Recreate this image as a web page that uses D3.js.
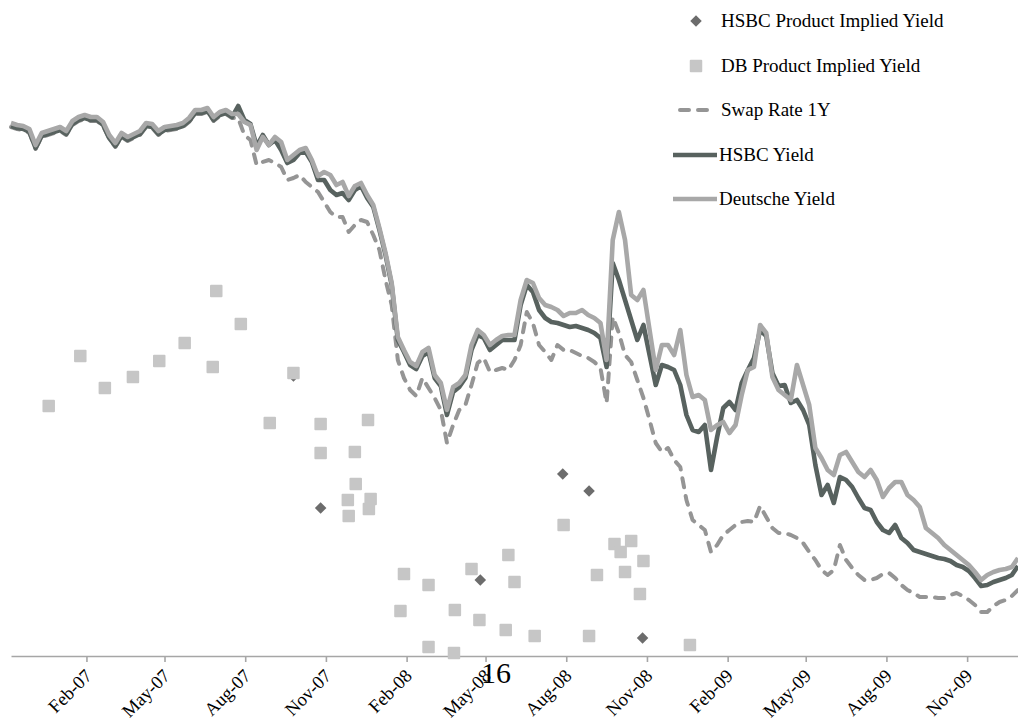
<!DOCTYPE html>
<html>
<head>
<meta charset="utf-8">
<script src="https://cdn.jsdelivr.net/npm/d3@7/dist/d3.min.js"></script>
<style>
  html, body { margin: 0; padding: 0; background: #fff; }
  svg { display: block; }
  text { font-family: "Liberation Serif", "Times New Roman", serif; }
</style>
</head>
<body>
<svg id="chart" width="1018" height="726"></svg>
<script>
// ---- Data ----
const dates = [
"2006-11-07","2006-11-14","2006-11-21","2006-11-28","2006-12-05","2006-12-12","2006-12-19","2006-12-26",
"2007-01-02","2007-01-09","2007-01-16","2007-01-23","2007-01-30","2007-02-06","2007-02-13","2007-02-20",
"2007-02-27","2007-03-06","2007-03-13","2007-03-20","2007-03-27","2007-04-03","2007-04-10","2007-04-17",
"2007-04-24","2007-05-01","2007-05-08","2007-05-15","2007-05-22","2007-05-29","2007-06-05","2007-06-12",
"2007-06-19","2007-06-26","2007-07-03","2007-07-10","2007-07-17","2007-07-24","2007-07-31","2007-08-07",
"2007-08-14","2007-08-21","2007-08-28","2007-09-04","2007-09-11","2007-09-18","2007-09-25","2007-10-02",
"2007-10-09","2007-10-16","2007-10-23","2007-10-30","2007-11-06","2007-11-13","2007-11-20","2007-11-27",
"2007-12-04","2007-12-11","2007-12-18","2007-12-25","2008-01-01","2008-01-08","2008-01-15","2008-01-22",
"2008-01-29","2008-02-05","2008-02-12","2008-02-19","2008-02-26","2008-03-04","2008-03-11","2008-03-18",
"2008-03-25","2008-04-01","2008-04-08","2008-04-15","2008-04-22","2008-04-29","2008-05-06","2008-05-13",
"2008-05-20","2008-05-27","2008-06-03","2008-06-10","2008-06-17","2008-06-24","2008-07-01","2008-07-08",
"2008-07-15","2008-07-22","2008-07-29","2008-08-05","2008-08-12","2008-08-19","2008-08-26","2008-09-02",
"2008-09-09","2008-09-16","2008-09-23","2008-09-30","2008-10-07","2008-10-14","2008-10-21","2008-10-28",
"2008-11-04","2008-11-11","2008-11-18","2008-11-25","2008-12-02","2008-12-09","2008-12-16","2008-12-23",
"2008-12-30","2009-01-06","2009-01-13","2009-01-20","2009-01-27","2009-02-03","2009-02-10","2009-02-17",
"2009-02-24","2009-03-03","2009-03-10","2009-03-17","2009-03-24","2009-03-31","2009-04-07","2009-04-14",
"2009-04-21","2009-04-28","2009-05-05","2009-05-12","2009-05-19","2009-05-26","2009-06-02","2009-06-09",
"2009-06-16","2009-06-23","2009-06-30","2009-07-07","2009-07-14","2009-07-21","2009-07-28","2009-08-04",
"2009-08-11","2009-08-18","2009-08-25","2009-09-01","2009-09-08","2009-09-15","2009-09-22","2009-09-29",
"2009-10-06","2009-10-13","2009-10-20","2009-10-27","2009-11-03","2009-11-10","2009-11-17","2009-11-24",
"2009-12-01","2009-12-08","2009-12-15","2009-12-22","2009-12-29"
];

const deutscheYield = [
5.33,5.31,5.30,5.27,5.11,5.23,5.25,5.27,5.29,5.25,5.35,5.39,5.41,5.39,5.39,5.34,
5.21,5.13,5.23,5.19,5.22,5.25,5.33,5.32,5.25,5.29,5.30,5.31,5.33,5.38,5.46,5.46,
5.48,5.39,5.44,5.46,5.42,5.42,5.34,5.31,5.06,5.19,5.11,5.19,5.14,4.96,5.01,5.06,
5.08,4.96,4.80,4.84,4.81,4.71,4.74,4.60,4.70,4.73,4.61,4.51,4.28,4.03,3.73,3.19,
3.06,2.94,2.90,3.04,3.08,2.81,2.73,2.46,2.69,2.73,2.81,3.11,3.26,3.21,3.11,3.16,
3.20,3.21,3.21,3.56,3.76,3.73,3.58,3.51,3.49,3.46,3.40,3.43,3.43,3.46,3.41,3.38,
3.33,2.96,4.16,4.44,4.16,3.61,3.56,3.66,3.26,2.86,3.11,3.11,3.01,3.26,2.81,2.59,
2.61,2.56,2.26,2.31,2.34,2.23,2.31,2.61,2.86,2.89,3.31,3.23,2.79,2.66,2.61,2.56,
2.91,2.71,2.51,2.08,1.98,1.86,1.81,2.01,2.04,1.94,1.84,1.79,1.86,1.76,1.59,1.68,
1.74,1.74,1.61,1.56,1.49,1.28,1.23,1.18,1.11,1.06,1.01,0.96,0.91,0.84,0.76,0.81,
0.84,0.86,0.87,0.89,0.98
];

const hsbcYield = [
5.30,5.28,5.27,5.24,5.08,5.20,5.22,5.24,5.26,5.22,5.32,5.36,5.38,5.36,5.36,5.31,
5.18,5.10,5.20,5.16,5.19,5.22,5.30,5.29,5.22,5.26,5.27,5.28,5.30,5.35,5.43,5.43,
5.45,5.36,5.41,5.43,5.39,5.50,5.36,5.32,5.10,5.21,5.11,5.16,5.06,4.93,4.96,5.03,
5.04,4.94,4.76,4.76,4.66,4.61,4.63,4.56,4.66,4.70,4.58,4.49,4.26,4.01,3.71,3.16,
3.04,2.91,2.87,3.00,3.04,2.78,2.70,2.41,2.64,2.69,2.78,3.06,3.21,3.18,3.06,3.11,
3.16,3.16,3.16,3.51,3.71,3.64,3.46,3.38,3.34,3.33,3.31,3.29,3.30,3.28,3.26,3.23,
3.18,2.89,3.93,3.76,3.56,3.36,3.16,3.31,3.01,2.71,2.91,2.89,2.86,2.71,2.41,2.26,
2.24,2.31,1.86,2.19,2.48,2.54,2.46,2.73,2.86,2.98,3.26,3.20,2.83,2.70,2.71,2.53,
2.56,2.46,2.31,1.91,1.61,1.71,1.53,1.79,1.76,1.69,1.58,1.48,1.46,1.34,1.26,1.23,
1.31,1.18,1.13,1.06,1.04,1.02,1.00,0.98,0.97,0.95,0.91,0.89,0.85,0.78,0.70,0.71,
0.74,0.76,0.78,0.81,0.90
];

const swapRate1Y = [
5.29,5.27,5.26,5.23,5.07,5.19,5.21,5.23,5.25,5.21,5.31,5.35,5.37,5.35,5.35,5.30,
5.17,5.09,5.19,5.15,5.18,5.21,5.29,5.28,5.21,5.25,5.26,5.27,5.29,5.34,5.42,5.42,
5.44,5.35,5.40,5.42,5.38,5.38,5.21,5.16,4.91,4.94,4.96,4.93,4.89,4.76,4.78,4.81,
4.74,4.69,4.64,4.54,4.44,4.39,4.39,4.24,4.31,4.36,4.34,4.21,4.06,3.76,3.51,2.96,
2.78,2.66,2.60,2.78,2.68,2.58,2.46,2.13,2.31,2.46,2.51,2.71,2.93,2.98,2.84,2.86,
2.88,2.86,2.96,3.11,3.44,3.33,3.11,3.04,2.96,3.11,3.06,3.06,3.03,3.00,2.98,2.94,
2.88,2.53,3.39,3.23,3.01,2.94,2.76,2.58,2.36,2.13,2.04,2.08,1.96,1.89,1.56,1.36,
1.31,1.26,1.04,1.11,1.21,1.26,1.31,1.34,1.35,1.34,1.50,1.39,1.28,1.23,1.23,1.21,
1.18,1.13,1.04,0.96,0.86,0.81,0.86,1.11,0.96,0.88,0.81,0.76,0.76,0.78,0.82,0.83,
0.78,0.71,0.66,0.63,0.59,0.59,0.59,0.58,0.58,0.61,0.63,0.60,0.56,0.51,0.44,0.44,
0.50,0.54,0.56,0.60,0.66
];

const hsbcProductDates = ["2007-09-25","2007-10-26","2008-04-25","2008-07-28","2008-08-27","2008-10-27"];
const hsbcProductYield = [2.80,1.48,0.76,1.82,1.65,0.18];

const dbProductDates = [
"2006-12-20","2007-01-25","2007-02-22","2007-03-26","2007-04-25","2007-05-24","2007-06-25","2007-06-29",
"2007-07-27","2007-08-29","2007-09-25","2007-10-26","2007-10-26","2007-11-26","2007-11-27","2007-12-04",
"2007-12-05","2007-12-19","2007-12-22","2007-12-20","2008-01-25","2008-01-29","2008-02-26","2008-02-26",
"2008-03-26","2008-03-27","2008-04-15","2008-04-24","2008-05-24","2008-05-27","2008-06-03","2008-06-26",
"2008-07-29","2008-08-27","2008-09-05","2008-09-25","2008-10-02","2008-10-07","2008-10-14","2008-10-24",
"2008-10-28","2008-12-20"
];
const dbProductYield = [
2.50,3.00,2.68,2.79,2.95,3.13,2.89,3.65,
3.32,2.33,2.83,2.32,2.03,1.56,1.40,2.04,
1.72,2.36,1.57,1.47,0.45,0.82,0.71,0.09,
0.03,0.46,0.87,0.36,0.26,1.01,0.74,0.20,
1.31,0.20,0.81,1.12,1.04,0.84,1.15,0.62,
0.95,0.11
];

const tickDates = ["2007-02-01","2007-05-01","2007-08-01","2007-11-01","2008-02-01","2008-05-01",
                   "2008-08-01","2008-11-01","2009-02-01","2009-05-01","2009-08-01","2009-11-01"];
const tickLabels = ["Feb-07","May-07","Aug-07","Nov-07","Feb-08","May-08",
                    "Aug-08","Nov-08","Feb-09","May-09","Aug-09","Nov-09"];

const legendItems = ["HSBC Product Implied Yield","DB Product Implied Yield","Swap Rate 1Y","HSBC Yield","Deutsche Yield"];

// ---- Styles ----
const C_DB_LINE = "#a8a8a8";
const C_HSBC_LINE = "#58625f";
const C_SWAP = "#959595";
const C_DIAMOND = "#6c6c6c";
const C_SQUARE = "#c6c6c6";
const SERIF = "'Liberation Serif', 'Times New Roman', serif";

const parse = d3.timeParse("%Y-%m-%d");
const svg = d3.select("#chart");

const x = d3.scaleTime()
  .domain([parse("2006-11-07"), parse("2009-12-29")])
  .range([11, 1018]);
const y = d3.scaleLinear().domain([0, 6.56]).range([656, 0]);

const mk = vals => dates.map((d, i) => ({ d: parse(d), v: vals[i] }));
const line = d3.line().x(p => x(p.d)).y(p => y(p.v));

// Axis
const axis = d3.axisBottom(x)
  .tickValues(tickDates.map(parse))
  .tickFormat((d, i) => tickLabels[i])
  .tickSize(6)
  .tickSizeOuter(0);
const gAxis = svg.append("g").attr("transform", "translate(0,656)").call(axis);
gAxis.attr("font-family", SERIF).attr("font-size", 18.5);
gAxis.select(".domain").attr("stroke", "#a6a6a6").attr("stroke-width", 1.6);
gAxis.selectAll(".tick line").attr("stroke", "#a6a6a6").attr("stroke-width", 1.6);
gAxis.selectAll(".tick text")
  .attr("fill", "#000")
  .style("font-size", "18.5px")
  .style("font-family", SERIF)
  .attr("text-anchor", "end")
  .attr("x", 0).attr("y", 0).attr("dy", 0)
  .attr("transform", "translate(6,21) rotate(-45)");

// Markers: diamonds then squares
const diamond = d3.symbol().type(d3.symbolDiamond2).size(85);
svg.append("g").selectAll("path")
  .data(hsbcProductDates.map((d, i) => ({ d: parse(d), v: hsbcProductYield[i] })))
  .join("path")
  .attr("d", diamond)
  .attr("transform", p => `translate(${x(p.d)},${y(p.v)})`)
  .attr("fill", C_DIAMOND);

const sq = 12.5;
svg.append("g").selectAll("rect")
  .data(dbProductDates.map((d, i) => ({ d: parse(d), v: dbProductYield[i] })))
  .join("rect")
  .attr("x", p => x(p.d) - sq / 2)
  .attr("y", p => y(p.v) - sq / 2)
  .attr("width", sq).attr("height", sq)
  .attr("rx", 1)
  .attr("fill", C_SQUARE);

// Lines: swap, HSBC, Deutsche
svg.append("path").datum(mk(swapRate1Y))
  .attr("d", line).attr("fill", "none")
  .attr("stroke", C_SWAP).attr("stroke-width", 4)
  .attr("stroke-dasharray", "9,9").attr("stroke-linecap", "round").attr("stroke-linejoin", "round");
svg.append("path").datum(mk(hsbcYield))
  .attr("d", line).attr("fill", "none")
  .attr("stroke", C_HSBC_LINE).attr("stroke-width", 4.6).attr("stroke-linejoin", "round");
svg.append("path").datum(mk(deutscheYield))
  .attr("d", line).attr("fill", "none")
  .attr("stroke", C_DB_LINE).attr("stroke-width", 4.6).attr("stroke-linejoin", "round");

// Legend
const lg = svg.append("g");
const ly = [21, 66, 110, 155, 199];
lg.append("path").attr("d", diamond).attr("transform", `translate(696,${ly[0]})`).attr("fill", C_DIAMOND);
lg.append("rect").attr("x", 696 - sq / 2).attr("y", ly[1] - sq / 2).attr("width", sq).attr("height", sq).attr("rx", 1).attr("fill", C_SQUARE);
lg.append("line").attr("x1", 675).attr("x2", 713).attr("y1", ly[2]).attr("y2", ly[2])
  .attr("stroke", C_SWAP).attr("stroke-width", 4).attr("stroke-dasharray", "9,9").attr("stroke-linecap", "round")
  .attr("stroke-dashoffset", -5);
lg.append("line").attr("x1", 673).attr("x2", 717).attr("y1", ly[3]).attr("y2", ly[3])
  .attr("stroke", C_HSBC_LINE).attr("stroke-width", 4.6);
lg.append("line").attr("x1", 673).attr("x2", 717).attr("y1", ly[4]).attr("y2", ly[4])
  .attr("stroke", C_DB_LINE).attr("stroke-width", 4.6);
const lx = [721, 721, 721, 719, 719];
legendItems.forEach((t, i) => {
  lg.append("text").attr("x", lx[i]).attr("y", ly[i]).attr("dy", "0.33em")
    .attr("fill", "#000").style("font-size", "19px").style("font-family", SERIF).text(t);
});

// Page number overlapping the axis
svg.append("text").attr("x", 481).attr("y", 683).attr("fill", "#000")
  .style("font-size", "30px").style("font-family", SERIF).text("16");
</script>
</body>
</html>
